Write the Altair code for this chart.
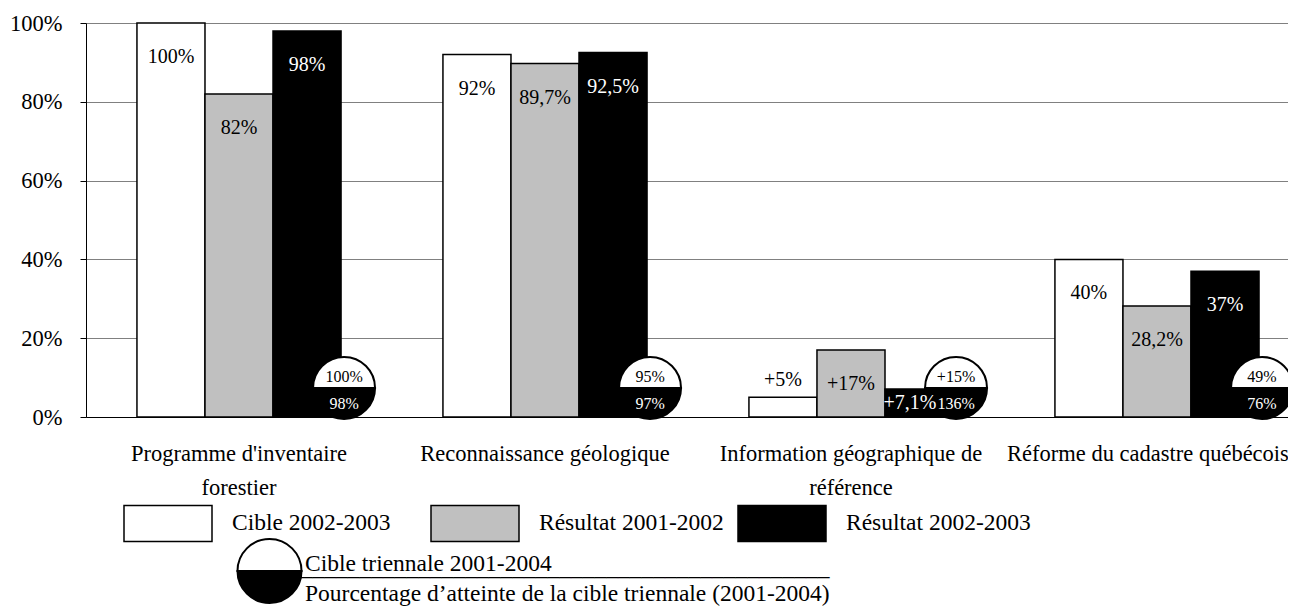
import json
import altair as alt
import pandas as pd

# ---------------- data ----------------
categories = [
    "Programme d'inventaire forestier",
    "Reconnaissance géologique",
    "Information géographique de référence",
    "Réforme du cadastre québécois",
]
category_lines = [
    ["Programme d'inventaire", "forestier"],
    ["Reconnaissance géologique"],
    ["Information géographique de", "référence"],
    ["Réforme du cadastre québécois"],
]
series = ["Cible 2002-2003", "Résultat 2001-2002", "Résultat 2002-2003"]
cible_2002_2003 = [100, 92, 5, 40]
resultat_2001_2002 = [82, 89.7, 17, 28.2]
resultat_2002_2003 = [98, 92.5, 7.1, 37]
cible_labels = ["100%", "92%", "+5%", "40%"]
r0102_labels = ["82%", "89,7%", "+17%", "28,2%"]
r0203_labels = ["98%", "92,5%", "+7,1%", "37%"]
triennial_parts = [
    "Cible triennale 2001-2004",
    "Pourcentage d’atteinte de la cible triennale (2001-2004)",
]
triennial_target = ["100%", "95%", "+15%", "49%"]
triennial_reached = ["98%", "97%", "136%", "76%"]
y_ticks = [0, 20, 40, 60, 80, 100]

# ---------------- tables ----------------
rows = []
for vals, labs, s in [
    (cible_2002_2003, cible_labels, series[0]),
    (resultat_2001_2002, r0102_labels, series[1]),
    (resultat_2002_2003, r0203_labels, series[2]),
]:
    for c, v, l in zip(categories, vals, labs):
        rows.append({"category": c, "series": s, "value": v, "label": l})
bars_df = pd.DataFrame(rows)

crow = []
for c, t, r in zip(categories, triennial_target, triennial_reached):
    crow.append({"category": c, "part": triennial_parts[0], "label": t})
    crow.append({"category": c, "part": triennial_parts[1], "label": r})
circ_df = pd.DataFrame(crow)

FONT = "Liberation Serif"

label_expr = " : ".join(
    f"datum.value === {json.dumps(c, ensure_ascii=False)} ? {json.dumps(l, ensure_ascii=False)}"
    for c, l in zip(categories, category_lines)
) + " : datum.label"

last_label_test = f"datum.value === {json.dumps(categories[-1], ensure_ascii=False)}"

x_axis = alt.Axis(
    title=None, ticks=False, tickSize=0, domain=True, domainColor="black", domainWidth=1.2,
    labelExpr=label_expr, labelFont=FONT, labelFontSize=22.5, labelColor="black",
    labelLineHeight=34, labelPadding=25, labelLimit=500, labelAngle=0, grid=False,
    labelOffset={"condition": {"test": last_label_test, "value": -9}, "value": 0},
)
y_axis = alt.Axis(
    title=None, values=y_ticks, labelExpr="datum.value + '%'", grid=True,
    gridColor="#808080", gridWidth=1, domainColor="black", tickColor="black",
    tickSize=6, labelFont=FONT, labelFontSize=22.5, labelColor="black", labelPadding=18,
)
x_scale = alt.Scale(paddingInner=0.333, paddingOuter=0.1306, align=0.6375)
y_scale = alt.Scale(domain=[0, 100], nice=False)
off_scale = alt.Scale(paddingInner=0, paddingOuter=0)


def X(band_position=None):
    kw = {}
    if band_position is not None:
        kw["bandPosition"] = band_position
    return alt.X("category:N", sort=categories, scale=x_scale, axis=x_axis, **kw)


bar_legend = alt.Legend(
    title=None, orient="none", legendX=37, legendY=455, direction="horizontal",
    columns=3, gridAlign="all", columnPadding=11,
    symbolType="M-1,-0.41H1V0.41H-1Z", symbolSize=7744,
    symbolStrokeColor="black", symbolStrokeWidth=1.5,
    labelFont=FONT, labelFontSize=23.5, labelColor="black", labelOffset=19,
    labelLimit=800, padding=0,
)

bars = alt.Chart(bars_df).mark_bar(stroke="black", strokeWidth=1.5).encode(
    x=X(),
    xOffset=alt.XOffset("series:N", sort=series, scale=off_scale),
    y=alt.Y("value:Q", scale=y_scale, axis=y_axis),
    fill=alt.Fill("series:N", sort=series,
                  scale=alt.Scale(domain=series, range=["white", "#c0c0c0", "black"]),
                  legend=bar_legend),
)

txt_color = alt.condition("datum.series === 'Résultat 2002-2003'", alt.value("white"), alt.value("black"))


def bar_text(flt, dy, dx=0):
    return alt.Chart(bars_df).transform_filter(flt).mark_text(
        font=FONT, fontSize=20, baseline="middle", dy=dy, dx=dx
    ).encode(
        x=X(),
        xOffset=alt.XOffset("series:N", sort=series, scale=off_scale),
        y=alt.Y("value:Q", scale=y_scale, axis=y_axis),
        text="label:N",
        color=txt_color,
    )


t_main = bar_text("datum.value >= 10", 34)
t_small_white = bar_text("datum.value < 10 && datum.series === 'Cible 2002-2003'", -17)
t_small_dark = bar_text("datum.value < 10 && datum.series !== 'Cible 2002-2003'", 14, -9)

# half-circle shapes
top_half = "M-1,0A1,1 0 0 1 1,0Z"                 # flat edge through the centre
bottom_half = "M-1,-0.9375A1,1 0 0 0 1,-0.9375Z"  # flat edge just under a full radius above


def half_legend(title=None, ly=0, title_pad=0):
    kw = {}
    if title is not None:
        kw.update(title=title, titleAnchor="end", titleFont=FONT, titleFontSize=23.5,
                  titleFontWeight="normal", titleColor="black", titlePadding=title_pad,
                  titleLimit=2000)
    else:
        kw.update(title=None)
    return alt.Legend(
        orient="none", legendX=150.5, legendY=ly, direction="vertical",
        symbolSize=4096, symbolStrokeWidth=2, symbolOpacity=1,
        labelFont=FONT, labelFontSize=23.5, labelColor="black", labelOffset=2.5,
        labelBaseline="alphabetic", labelLimit=800, padding=0, **kw,
    )


def half_layer(part, path, color, y_off, legend):
    return alt.Chart(circ_df).transform_filter(alt.datum.part == part).mark_point(
        filled=True, size=3844, strokeWidth=2, opacity=1, yOffset=y_off, xOffset=3
    ).encode(
        x=X(1.0),
        y=alt.Y(datum=0, type="quantitative", scale=y_scale, axis=y_axis),
        shape=alt.Shape("part:N", scale=alt.Scale(domain=[part], range=[path]), legend=legend),
        fill=alt.Fill("part:N", scale=alt.Scale(domain=[part], range=[color]), legend=legend),
        stroke=alt.Stroke("part:N", scale=alt.Scale(domain=[part], range=["black"]), legend=legend),
    )


circ_top = half_layer(triennial_parts[0], top_half, "white", -29, half_legend(None, 515))
circ_bot = half_layer(triennial_parts[1], bottom_half, "black", 0,
                      half_legend("_" * 45, 533, -11.5))


def circ_text(part, dy, col):
    return alt.Chart(circ_df).transform_filter(
        alt.datum.part == part
    ).mark_text(font=FONT, fontSize=16, baseline="middle", dy=dy, dx=3, color=col).encode(
        x=X(1.0),
        y=alt.Y(datum=0, type="quantitative", scale=y_scale, axis=y_axis),
        text="label:N",
    )


ct_top = circ_text(triennial_parts[0], -40, "black")
ct_bot = circ_text(triennial_parts[1], -13, "white")

chart = alt.layer(
    bars, t_main, t_small_white, circ_top, circ_bot, t_small_dark, ct_top, ct_bot
).resolve_scale(
    fill="independent", shape="independent", stroke="independent"
).properties(
    width=1202, height=394,
    autosize=alt.AutoSizeParams(type="none"),
    padding={"left": 78, "top": 15, "right": 0, "bottom": 190},
    background="white",
).configure_view(stroke=None)

chart.save("out.html", embed_options={"renderer": "svg", "actions": False})
